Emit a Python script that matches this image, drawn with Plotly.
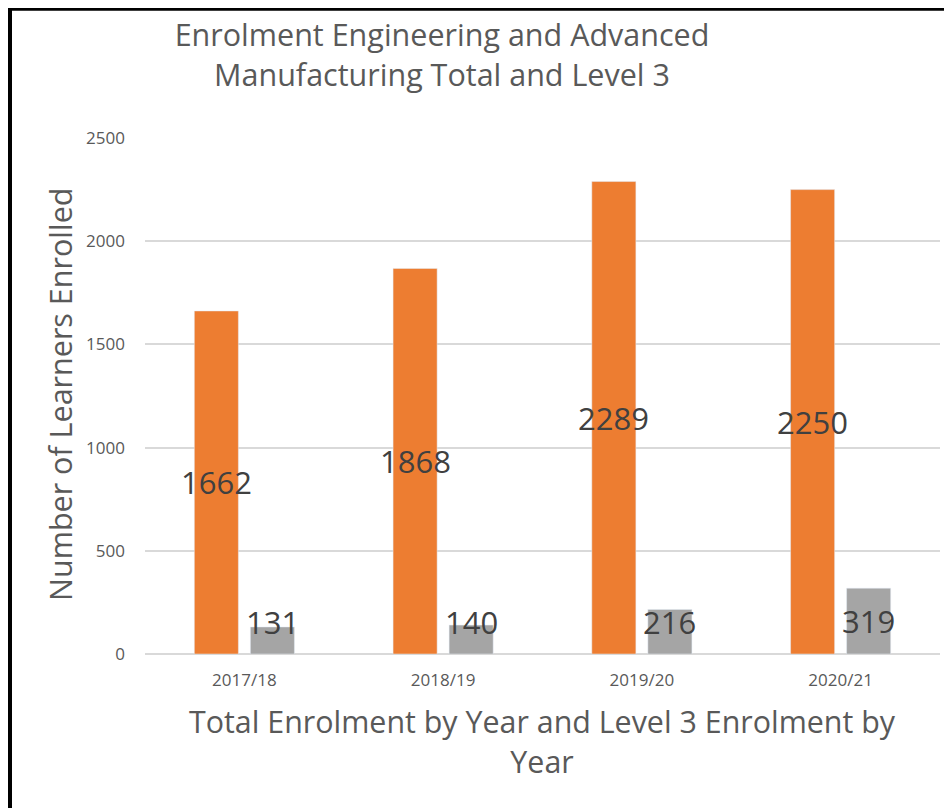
import plotly.graph_objects as go

# data
years = ["2017/18", "2018/19", "2019/20", "2020/21"]
total_enrolment = [1662, 1868, 2289, 2250]
level3_enrolment = [131, 140, 216, 319]

y_ticks = [0, 500, 1000, 1500, 2000, 2500]

ORANGE = "#ED7D31"
GREY = "#A5A5A5"
TEXT = "#595959"
LABEL = "#404040"
GRID = "#D9D9D9"
FONT = "Open Sans, Arial, sans-serif"

# the page body adds an 8px margin, so the figure is 8px smaller than the window
W, H = 944, 800
M = dict(l=137, r=12, t=130, b=154)
plot_w = W - M["l"] - M["r"]
plot_h = H - M["t"] - M["b"]


def px_x(px):
    return (px - M["l"]) / plot_w


def px_y(py):
    return (H - M["b"] - py) / plot_h


fig = go.Figure()
fig.add_trace(go.Bar(x=years, y=total_enrolment, name="Total", marker_color=ORANGE))
fig.add_trace(go.Bar(x=years, y=level3_enrolment, name="Level 3", marker_color=GREY))

# data labels, centred in each bar (Excel-style "center" labels)
shift = 28
min_label = 155
for yr, v in zip(years, total_enrolment):
    fig.add_annotation(x=yr, y=max(v / 2, min_label), text=str(v), showarrow=False,
                       xshift=-shift, xanchor="center", yanchor="middle",
                       font=dict(size=31, color=LABEL, family=FONT))
for yr, v in zip(years, level3_enrolment):
    fig.add_annotation(x=yr, y=max(v / 2, min_label), text=str(v), showarrow=False,
                       xshift=shift, xanchor="center", yanchor="middle",
                       font=dict(size=31, color=LABEL, family=FONT))

# axis titles
fig.add_annotation(xref="paper", yref="paper", x=px_x(52), y=px_y(387),
                   xanchor="center", yanchor="middle",
                   text="Number of Learners Enrolled", textangle=-90, showarrow=False,
                   font=dict(size=30.5, color=TEXT, family=FONT))
fig.add_annotation(xref="paper", yref="paper", x=px_x(534), y=px_y(733),
                   xanchor="center", yanchor="middle",
                   text="Total Enrolment by Year and Level 3 Enrolment by<br>Year",
                   showarrow=False, font=dict(size=30.4, color=TEXT, family=FONT))

# black frame (left and top edges only visible)
fig.add_shape(type="line", xref="paper", yref="paper",
              x0=px_x(2), x1=px_x(2), y0=px_y(H + 5), y1=px_y(-2),
              line=dict(color="black", width=4))
fig.add_shape(type="line", xref="paper", yref="paper",
              x0=px_x(-2), x1=px_x(W + 5), y0=px_y(1), y1=px_y(1),
              line=dict(color="black", width=3.5))

fig.update_layout(
    width=W, height=H,
    margin=M,
    paper_bgcolor="white", plot_bgcolor="white",
    barmode="group", bargap=0.436, bargroupgap=0.214,
    showlegend=False,
    font=dict(family=FONT, color=TEXT),
    title=dict(
        text="Enrolment Engineering and Advanced<br>Manufacturing Total and Level 3",
        x=434 / W, xanchor="center", xref="container",
        y=1 - 38 / H, yanchor="middle", yref="container",
        font=dict(size=30.5, color=TEXT, family=FONT),
    ),
    xaxis=dict(
        showgrid=False, showline=False, ticks="",
        tickfont=dict(size=17, color=TEXT), ticklabelstandoff=14,
    ),
    yaxis=dict(
        range=[0, 2500], tickvals=y_ticks, showgrid=True, gridcolor=GRID, gridwidth=1.5,
        zeroline=True, zerolinecolor=GRID, zerolinewidth=2, showline=False,
        tickfont=dict(size=17, color=TEXT), ticklabelstandoff=19,
    ),
)

fig.write_html("out.html")
